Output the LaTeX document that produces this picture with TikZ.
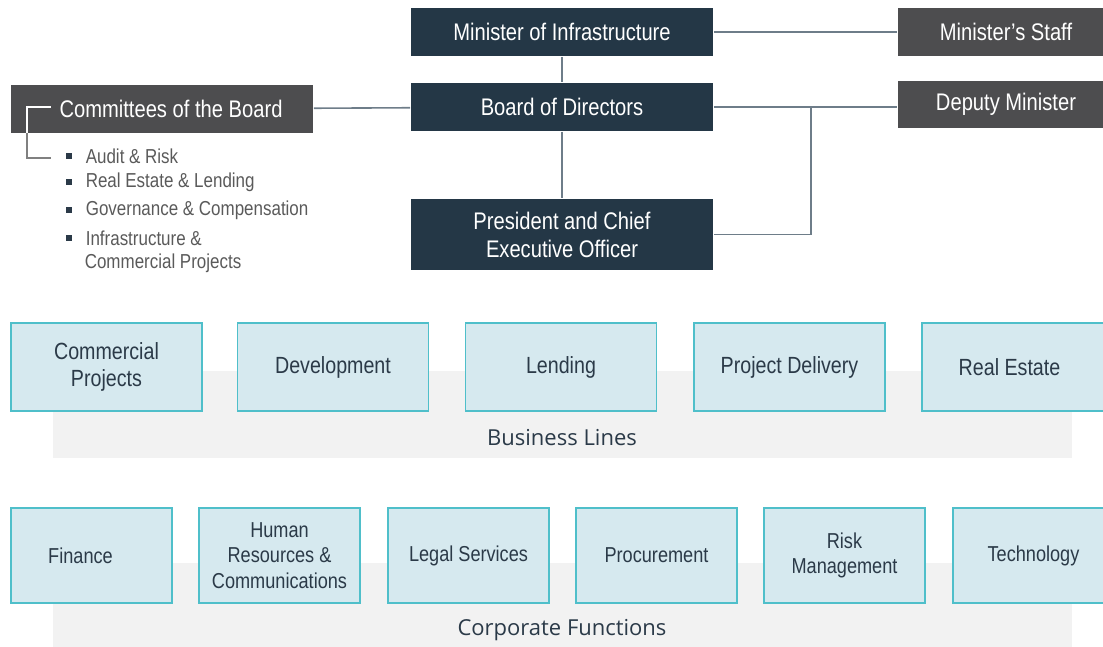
\documentclass[tikz,border=0pt]{standalone}
\usepackage{fontspec}
\setmainfont{Liberation Sans}[FakeStretch=0.84]
\newfontfamily\bandfont{Open Sans}
\usetikzlibrary{positioning}
\definecolor{navy}{HTML}{243746}
\definecolor{slate}{HTML}{4D4D4F}
\definecolor{linegray}{HTML}{6E7D89}
\definecolor{paleblue}{HTML}{D6E9EF}
\definecolor{teal}{HTML}{4FBFCA}
\definecolor{bandgray}{HTML}{F2F2F2}
\definecolor{textnavy}{HTML}{2B3A48}
\definecolor{listgray}{HTML}{5A5A5A}

\begin{document}
\begin{tikzpicture}[x=0.5pt,y=-0.5pt,-,thick,
 		dark node/.style={rectangle,fill=navy,text=white,minimum width=151pt,minimum height=24pt,align=center,inner sep=0pt,font=\fontsize{12}{14}\selectfont},
 		grey node/.style={rectangle,fill=slate,text=white,minimum width=108pt,minimum height=24pt,inner sep=0pt,font=\fontsize{12}{14}\selectfont},
 		line node/.style={rectangle,draw=teal,line width=0.7pt,fill=paleblue,text=textnavy,minimum width=95.5pt,minimum height=44pt,align=center,inner sep=0pt,font=\fontsize{11.7}{13.5}\selectfont},
 		corp node/.style={line node,minimum width=80.5pt,minimum height=47.5pt,font=\fontsize{10.8}{12.9}\selectfont},
 		item node/.style={anchor=west,text=listgray,inner sep=0pt,font=\fontsize{10.1}{12}\selectfont},
 		band/.style={fill=bandgray},
 		band label/.style={font=\bandfont\fontsize{11}{13}\selectfont,text=textnavy},
 		link/.style={draw=linegray,line width=0.8pt}]
 		\clip (0,0) rectangle (1103,647);
 		\useasboundingbox (0,0) rectangle (1103,647);

 		% grey bands behind the boxes
 		\fill[band] (53,371) rectangle (1072,458);
 		\fill[band] (53,563) rectangle (1072,647);
 		\node[band label] (bl) at (562,438) {Business Lines};
 		\node[band label] (cf) at (562,630) {Corporate Functions};

 		% governance
 		\node[dark node] (min) at (562,32) {Minister of Infrastructure};
 		\node[dark node] (board) at (562,107) {Board of Directors};
 		\node[dark node,minimum height=35.5pt] (ceo) at (562,234.5) {President and Chief\\Executive Officer};
 		\node[grey node] (staff) at (1006,32) {Minister's Staff};
 		\node[grey node,minimum height=23.5pt] (deputy) at (1006,104.5) {Deputy Minister};
 		\node[grey node,minimum width=151pt] (cmt) at (162,109) {};
 		\node[text=white,inner sep=0pt,font=\fontsize{12}{14}\selectfont] (cmtlabel) at (171,109) {Committees of the Board};

 		\path[link]
 		(min) edge (board)
 		(board) edge (ceo)
 		(cmt) edge (board)
 		(min) edge (staff);
 		\coordinate (split) at (811,107);
 		\draw[link] (board.east |- split) -- (deputy.west |- split);
 		\draw[link] (split) |- (ceo.east);

 		% committees list
 		\coordinate (b1) at (51,107);
 		\coordinate (b2) at (51,158);
 		\draw[draw=gray,line width=0.7pt] (b1) -| (27,158) -- (b2);
 		\draw[draw=white,line width=0.7pt] (b1) -| (27,133);
 		\foreach \y/\t in {156/Audit \& Risk,182/Real Estate \& Lending,210/Governance \& Compensation,238/Infrastructure \&}{
 		  \fill[textnavy] (66,\y-3) rectangle (72,\y+3);
 		  \node[item node] at (85,\y) {\t};
 		}
 		\node[item node] (last) at (84,263) {Commercial Projects};

 		% business lines
 		\node[line node] (cp) at (106.5,367) {Commercial\\Projects};
 		\node[line node] (dev) at (333,367) {Development};
 		\node[line node] (lend) at (561,367) {Lending};
 		\node[line node] (pd) at (789.5,367) {Project Delivery};
 		\node[line node] (re) at (1017.5,367) {Real Estate\hspace*{8pt}};

 		% corporate functions
 		\node[corp node] (fin) at (91.5,555.5) {Finance\hspace*{11pt}};
 		\node[corp node] (hr) at (279.5,555.5) {Human\\Resources \&\\Communications};
 		\node[corp node] (legal) at (468.5,555.5) {Legal Services};
 		\node[corp node] (proc) at (656.5,555.5) {Procurement};
 		\node[corp node] (risk) at (844.5,555.5) {Risk\\Management};
 		\node[corp node] (tech) at (1033.5,555.5) {Technology};
\end{tikzpicture}
\end{document}
